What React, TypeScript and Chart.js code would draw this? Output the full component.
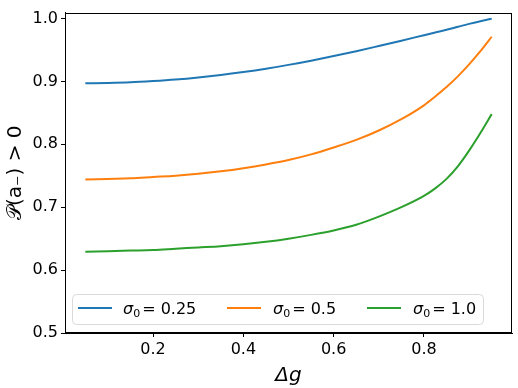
import React, { useEffect, useRef } from "react";
import { Chart, registerables } from "chart.js";

Chart.register(...registerables);

const deltaG = [0.05, 0.1, 0.15, 0.2, 0.25, 0.3, 0.35, 0.4, 0.45, 0.5, 0.55, 0.6, 0.65, 0.7, 0.75, 0.8, 0.825, 0.85, 0.875, 0.9, 0.925, 0.95];
const sigma025 = [0.897, 0.8975, 0.8985, 0.9005, 0.903, 0.9063, 0.9103, 0.915, 0.9203, 0.9263, 0.933, 0.9403, 0.948, 0.9563, 0.9648, 0.9735, 0.9778, 0.982, 0.9868, 0.9915, 0.9958, 0.9995];
const sigma05 = [0.744, 0.745, 0.746, 0.748, 0.75, 0.753, 0.757, 0.762, 0.768, 0.775, 0.784, 0.795, 0.807, 0.822, 0.84, 0.862, 0.876, 0.891, 0.908, 0.927, 0.948, 0.971];
const sigma10 = [0.629, 0.63, 0.631, 0.632, 0.634, 0.636, 0.638, 0.641, 0.645, 0.65, 0.656, 0.663, 0.672, 0.685, 0.7, 0.718, 0.73, 0.745, 0.765, 0.79, 0.818, 0.848];
const seriesValues = ["0.25", "0.5", "1.0"];
const seriesColors = ["#1f77b4", "#ff7f0e", "#2ca02c"];
const xTicks = [0.2, 0.4, 0.6, 0.8];
const yTicks = [0.5, 0.6, 0.7, 0.8, 0.9, 1.0];

const FONT = "'DejaVu Sans', sans-serif";

export default function App() {
  const ref = useRef<HTMLCanvasElement>(null);
  useEffect(() => {
    document.body.style.margin = "0";
    const ctx = ref.current!;
    const series = [sigma025, sigma05, sigma10];
    const framePlugin = {
      id: "frameLegend",
      afterDraw(chart: any) {
        const { ctx: c, chartArea: a } = chart;
        c.save();
        c.strokeStyle = "#000";
        c.lineWidth = 1;
        c.strokeRect(Math.round(a.left) + 0.5, Math.round(a.top) + 0.5, Math.round(a.right - a.left) - 1, Math.round(a.bottom - a.top) - 1);
        // legend box
        const bx = 72.5, by = 294.5, bw = 411, bh = 30, r = 4;
        c.fillStyle = "rgba(255,255,255,0.8)";
        c.strokeStyle = "#d9d9d9";
        c.beginPath();
        c.moveTo(bx + r, by);
        c.lineTo(bx + bw - r, by);
        c.quadraticCurveTo(bx + bw, by, bx + bw, by + r);
        c.lineTo(bx + bw, by + bh - r);
        c.quadraticCurveTo(bx + bw, by + bh, bx + bw - r, by + bh);
        c.lineTo(bx + r, by + bh);
        c.quadraticCurveTo(bx, by + bh, bx, by + bh - r);
        c.lineTo(bx, by + r);
        c.quadraticCurveTo(bx, by, bx + r, by);
        c.closePath();
        c.fill();
        c.stroke();
        const lineX = [78, 227, 367];
        const textX = [123, 273, 413];
        const ly = 308;
        c.textBaseline = "alphabetic";
        c.textAlign = "left";
        for (let i = 0; i < 3; i++) {
          c.strokeStyle = seriesColors[i];
          c.lineWidth = 2;
          c.beginPath();
          c.moveTo(lineX[i], ly);
          c.lineTo(lineX[i] + 34, ly);
          c.stroke();
          c.fillStyle = "#000";
          let x = textX[i];
          const base = ly + 6;
          c.font = `italic 16px ${FONT}`;
          c.fillText("σ", x, base);
          x += c.measureText("σ").width;
          c.font = `11px ${FONT}`;
          c.fillText("0", x, base + 3);
          x += c.measureText("0").width + 2;
          c.font = `16px ${FONT}`;
          c.fillText("= " + seriesValues[i], x, base);
        }
        c.restore();
      },
    };
    const chart = new Chart(ctx, {
      type: "line",
      data: {
        datasets: series.map((s, i) => ({
          label: "σ₀ = " + seriesValues[i],
          data: deltaG.map((x, j) => ({ x, y: s[j] })),
          borderColor: seriesColors[i],
          backgroundColor: seriesColors[i],
          borderWidth: 2,
          pointRadius: 0,
          cubicInterpolationMode: "monotone" as const,
          fill: false,
        })),
      },
      options: {
        animation: false,
        responsive: false,
        layout: { padding: { top: 7, right: 6, left: 0, bottom: 0 } },
        plugins: { legend: { display: false }, tooltip: { enabled: false } },
        scales: {
          x: {
            type: "linear",
            min: 0.005,
            max: 0.995,
            afterBuildTicks: (s: any) => {
              s.ticks = xTicks.map((v) => ({ value: v }));
            },
            afterFit: (s: any) => {
              s.height = 55;
            },
            border: { display: true, color: "#000" },
            grid: { drawOnChartArea: false, drawTicks: true, tickLength: 4, color: "#000" },
            ticks: { color: "#000", font: { family: FONT, size: 16 }, padding: 3, maxRotation: 0, callback: (v: any) => Number(v).toFixed(1) },
            title: { display: true, text: "Δg", color: "#000", font: { family: FONT, size: 20, style: "italic" }, padding: { top: 0, bottom: 0 } },
          },
          y: {
            type: "linear",
            min: 0.5,
            max: 1.0094,
            afterBuildTicks: (s: any) => {
              s.ticks = yTicks.map((v) => ({ value: v }));
            },
            afterFit: (s: any) => {
              s.width = 65;
            },
            border: { display: true, color: "#000" },
            grid: { drawOnChartArea: false, drawTicks: true, tickLength: 4, color: "#000" },
            ticks: { color: "#000", font: { family: FONT, size: 16 }, padding: 3, callback: (v: any) => Number(v).toFixed(1) },
            title: { display: true, text: "𝒫(a₋) > 0", color: "#000", font: { family: FONT, size: 20 }, padding: { top: 4, bottom: 0 } },
          },
        },
      },
      plugins: [framePlugin],
    });
    return () => chart.destroy();
  }, []);
  return <canvas ref={ref} width={518} height={388} style={{ display: "block" }} />;
}
